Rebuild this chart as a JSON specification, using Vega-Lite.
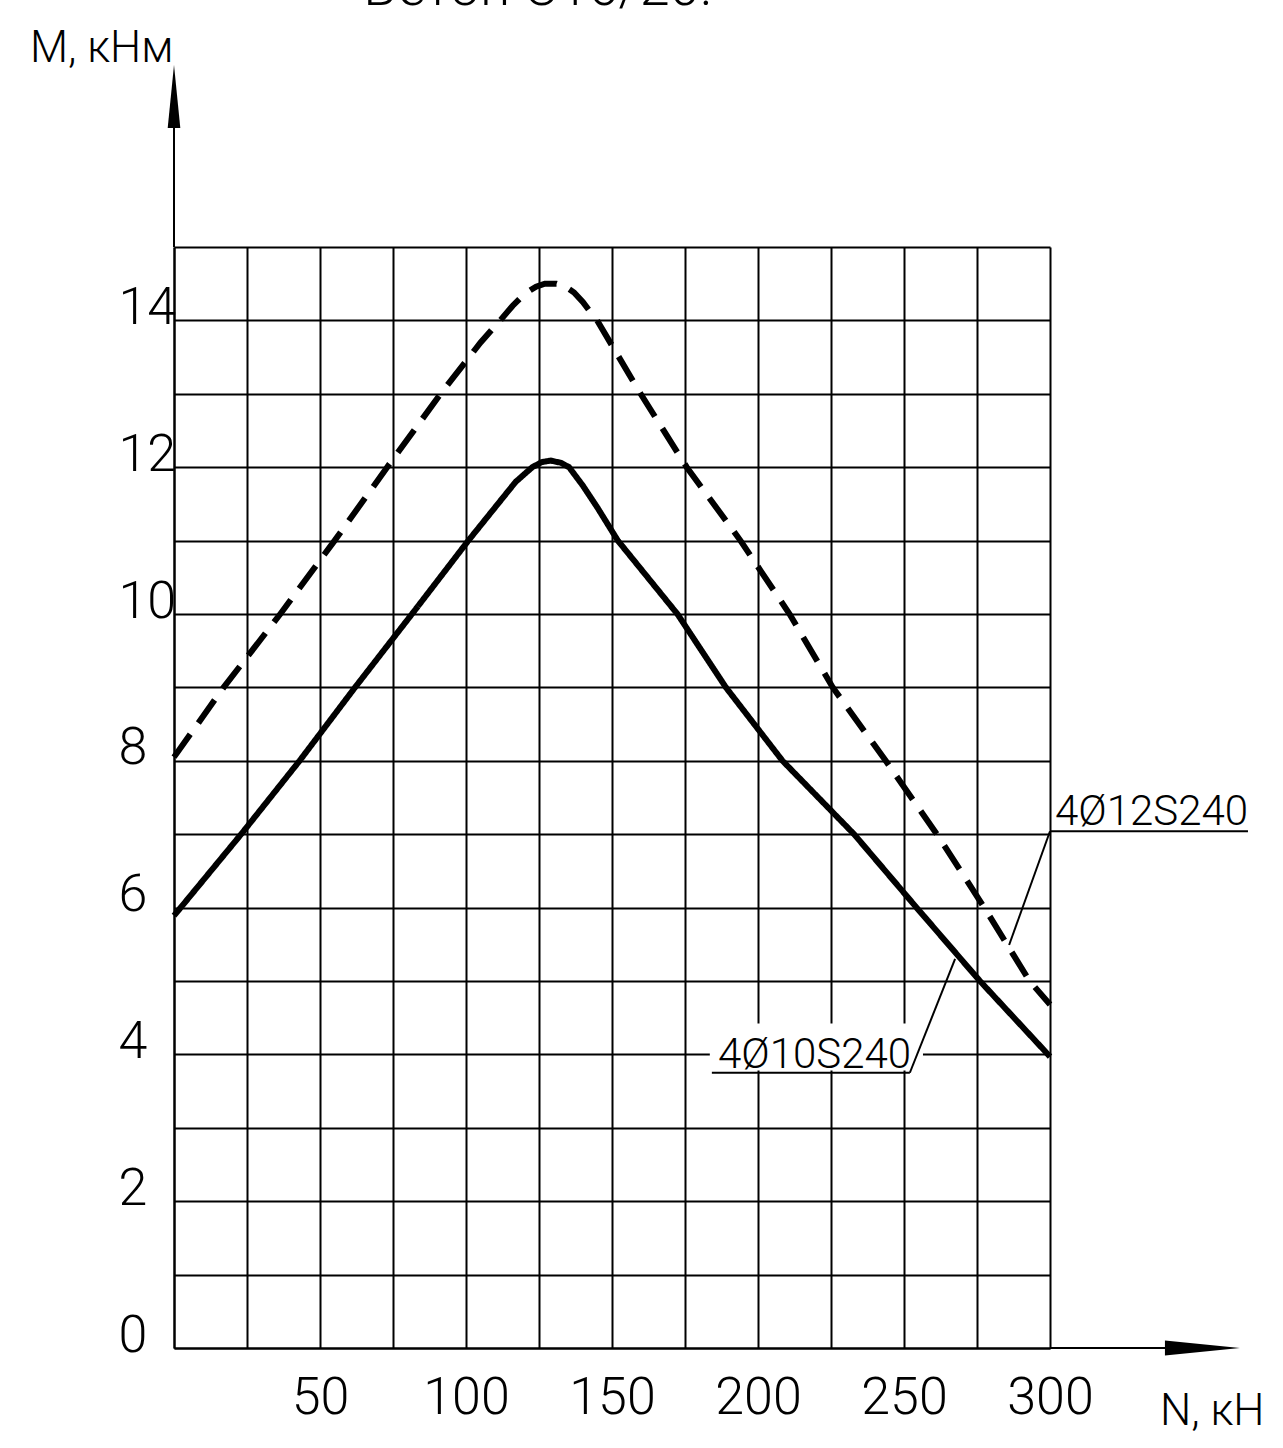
{
  "$schema": "https://vega.github.io/schema/vega-lite/v6.json",
  "width": 876,
  "height": 1101,
  "autosize": {"type": "none"},
  "padding": {"left": 174, "top": 247, "right": 233, "bottom": 100},
  "background": "white",
  "config": {
    "view": {"stroke": null},
    "font": "Roboto, DejaVu Sans Condensed, sans-serif",
    "text": {"font": "Roboto, DejaVu Sans Condensed, sans-serif", "color": "black", "fontWeight": 300}
  },
  "datasets": {
    "curves": [
      {"series": "4Ø12S240", "N": 0, "M": 8.05},
      {"series": "4Ø12S240", "N": 17, "M": 9},
      {"series": "4Ø12S240", "N": 36.4, "M": 10},
      {"series": "4Ø12S240", "N": 55, "M": 11},
      {"series": "4Ø12S240", "N": 73, "M": 12},
      {"series": "4Ø12S240", "N": 91.3, "M": 13},
      {"series": "4Ø12S240", "N": 105, "M": 13.7},
      {"series": "4Ø12S240", "N": 111.7, "M": 14},
      {"series": "4Ø12S240", "N": 116, "M": 14.2},
      {"series": "4Ø12S240", "N": 120, "M": 14.36},
      {"series": "4Ø12S240", "N": 124, "M": 14.46},
      {"series": "4Ø12S240", "N": 127, "M": 14.5},
      {"series": "4Ø12S240", "N": 131, "M": 14.5},
      {"series": "4Ø12S240", "N": 134, "M": 14.46},
      {"series": "4Ø12S240", "N": 137, "M": 14.38},
      {"series": "4Ø12S240", "N": 140, "M": 14.25},
      {"series": "4Ø12S240", "N": 142.5, "M": 14.12},
      {"series": "4Ø12S240", "N": 144.9, "M": 14},
      {"series": "4Ø12S240", "N": 159.8, "M": 13},
      {"series": "4Ø12S240", "N": 175.6, "M": 12},
      {"series": "4Ø12S240", "N": 194, "M": 11},
      {"series": "4Ø12S240", "N": 210.8, "M": 10},
      {"series": "4Ø12S240", "N": 225.6, "M": 9},
      {"series": "4Ø12S240", "N": 243.75, "M": 8},
      {"series": "4Ø12S240", "N": 261.25, "M": 7},
      {"series": "4Ø12S240", "N": 277.5, "M": 6},
      {"series": "4Ø12S240", "N": 293, "M": 5},
      {"series": "4Ø12S240", "N": 300, "M": 4.68},
      {"series": "4Ø10S240", "N": 0, "M": 5.89},
      {"series": "4Ø10S240", "N": 23, "M": 7},
      {"series": "4Ø10S240", "N": 43, "M": 8},
      {"series": "4Ø10S240", "N": 62, "M": 9},
      {"series": "4Ø10S240", "N": 81.5, "M": 10},
      {"series": "4Ø10S240", "N": 100.8, "M": 11},
      {"series": "4Ø10S240", "N": 117, "M": 11.8},
      {"series": "4Ø10S240", "N": 122.7, "M": 12},
      {"series": "4Ø10S240", "N": 126, "M": 12.07},
      {"series": "4Ø10S240", "N": 129, "M": 12.09},
      {"series": "4Ø10S240", "N": 132.5, "M": 12.06},
      {"series": "4Ø10S240", "N": 135.3, "M": 12},
      {"series": "4Ø10S240", "N": 140, "M": 11.75},
      {"series": "4Ø10S240", "N": 145, "M": 11.45},
      {"series": "4Ø10S240", "N": 152, "M": 11},
      {"series": "4Ø10S240", "N": 172.4, "M": 10},
      {"series": "4Ø10S240", "N": 189, "M": 9},
      {"series": "4Ø10S240", "N": 208.4, "M": 8},
      {"series": "4Ø10S240", "N": 232.9, "M": 7},
      {"series": "4Ø10S240", "N": 254.3, "M": 6},
      {"series": "4Ø10S240", "N": 276, "M": 5},
      {"series": "4Ø10S240", "N": 300, "M": 3.97}
    ],
    "one": [{}]
  },
  "layer": [
    {
      "data": {"name": "curves"},
      "mark": {"type": "line", "strokeWidth": 6, "color": "black", "strokeCap": "butt"},
      "encoding": {
        "x": {
          "field": "N", "type": "quantitative",
          "scale": {"domain": [0, 300], "nice": false, "zero": false},
          "axis": {
            "title": null,
            "values": [0, 25, 50, 75, 100, 125, 150, 175, 200, 225, 250, 275, 300],
            "format": "d",
            "labelExpr": "datum.value % 50 === 0 && datum.value > 0 ? datum.label : ''",
            "grid": true, "gridColor": "black", "gridWidth": 2, "gridOpacity": 1,
            "domain": true, "domainColor": "black", "domainWidth": 2,
            "ticks": false, "tickSize": 0,
            "labelFontSize": 52, "labelColor": "black", "labelPadding": 24, "labelFontWeight": 300,
            "labelFont": "Roboto, DejaVu Sans Condensed, sans-serif",
            "labelFlush": false, "labelOverlap": false
          }
        },
        "y": {
          "field": "M", "type": "quantitative",
          "scale": {"domain": [0, 15], "nice": false, "zero": false},
          "axis": {
            "title": null,
            "values": [0, 1, 2, 3, 4, 5, 6, 7, 8, 9, 10, 11, 12, 13, 14, 15],
            "format": "d",
            "labelExpr": "datum.value % 2 === 0 && datum.value < 15 ? datum.label : ''",
            "grid": true, "gridColor": "black", "gridWidth": 2, "gridOpacity": 1,
            "domain": true, "domainColor": "black", "domainWidth": 2,
            "ticks": false, "tickSize": 0,
            "labelFontSize": 52, "labelColor": "black", "labelPadding": 56, "labelFontWeight": 300,
            "labelAlign": "left", "labelBaseline": "alphabetic", "labelOffset": 3,
            "labelFont": "Roboto, DejaVu Sans Condensed, sans-serif",
            "labelFlush": false, "labelOverlap": false
          }
        },
        "detail": {"field": "series"},
        "strokeDash": {
          "field": "series", "type": "nominal",
          "scale": {"domain": ["4Ø12S240", "4Ø10S240"], "range": [[28, 14], [1, 0]]},
          "legend": null
        }
      }
    },
    {
      "data": {"name": "one"},
      "mark": {"type": "rect", "color": "white"},
      "encoding": {
        "x": {"datum": 183.5, "type": "quantitative"},
        "x2": {"datum": 256.5},
        "y": {"datum": 3.78, "type": "quantitative"},
        "y2": {"datum": 4.42}
      }
    },
    {
      "data": {"name": "one"},
      "mark": {"type": "rule", "color": "black", "strokeWidth": 2},
      "encoding": {
        "x": {"datum": 0, "type": "quantitative"},
        "y": {"datum": 15, "type": "quantitative"},
        "y2": {"datum": 17.2}
      }
    },
    {
      "data": {"name": "one"},
      "mark": {"type": "rule", "color": "black", "strokeWidth": 2},
      "encoding": {
        "x": {"datum": 300, "type": "quantitative"},
        "x2": {"datum": 345},
        "y": {"datum": 0, "type": "quantitative"}
      }
    },
    {
      "data": {"name": "one"},
      "mark": {"type": "point", "filled": true, "color": "black", "opacity": 1, "shape": "M0,-1L0.2,1L-0.2,1Z", "size": 3969, "strokeWidth": 0},
      "encoding": {
        "x": {"datum": 0, "type": "quantitative"},
        "y": {"datum": 17.05, "type": "quantitative"}
      }
    },
    {
      "data": {"name": "one"},
      "mark": {"type": "point", "filled": true, "color": "black", "opacity": 1, "shape": "M1,0L-1,-0.2L-1,0.2Z", "size": 5625, "strokeWidth": 0},
      "encoding": {
        "x": {"datum": 352.2, "type": "quantitative"},
        "y": {"datum": 0, "type": "quantitative"}
      }
    },
    {
      "data": {"name": "one"},
      "mark": {"type": "rule", "color": "black", "strokeWidth": 2},
      "encoding": {
        "x": {"datum": 300, "type": "quantitative"},
        "x2": {"datum": 367.8},
        "y": {"datum": 7.04, "type": "quantitative"}
      }
    },
    {
      "data": {"name": "one"},
      "mark": {"type": "rule", "color": "black", "strokeWidth": 2},
      "encoding": {
        "x": {"datum": 300, "type": "quantitative"},
        "x2": {"datum": 286},
        "y": {"datum": 7.04, "type": "quantitative"},
        "y2": {"datum": 5.49}
      }
    },
    {
      "data": {"name": "one"},
      "mark": {"type": "rule", "color": "black", "strokeWidth": 2},
      "encoding": {
        "x": {"datum": 184.2, "type": "quantitative"},
        "x2": {"datum": 252},
        "y": {"datum": 3.75, "type": "quantitative"}
      }
    },
    {
      "data": {"name": "one"},
      "mark": {"type": "rule", "color": "black", "strokeWidth": 2},
      "encoding": {
        "x": {"datum": 252, "type": "quantitative"},
        "x2": {"datum": 267.5},
        "y": {"datum": 3.75, "type": "quantitative"},
        "y2": {"datum": 5.3}
      }
    },
    {
      "data": {"name": "one"},
      "mark": {"type": "text", "align": "left", "baseline": "alphabetic", "fontSize": 42},
      "encoding": {
        "x": {"datum": 301.7, "type": "quantitative"},
        "y": {"datum": 7.13, "type": "quantitative"},
        "text": {"value": "4Ø12S240"}
      }
    },
    {
      "data": {"name": "one"},
      "mark": {"type": "text", "align": "left", "baseline": "alphabetic", "fontSize": 42},
      "encoding": {
        "x": {"datum": 186.3, "type": "quantitative"},
        "y": {"datum": 3.81, "type": "quantitative"},
        "text": {"value": "4Ø10S240"}
      }
    },
    {
      "data": {"name": "one"},
      "mark": {"type": "text", "align": "left", "baseline": "alphabetic", "fontSize": 44},
      "encoding": {
        "x": {"datum": -49.3, "type": "quantitative"},
        "y": {"datum": 17.52, "type": "quantitative"},
        "text": {"value": "M, кНм"}
      }
    },
    {
      "data": {"name": "one"},
      "mark": {"type": "text", "align": "left", "baseline": "alphabetic", "fontSize": 44},
      "encoding": {
        "x": {"datum": 337.7, "type": "quantitative"},
        "y": {"datum": -1.05, "type": "quantitative"},
        "text": {"value": "N, кН"}
      }
    },
    {
      "data": {"name": "one"},
      "mark": {"type": "text", "align": "center", "baseline": "alphabetic", "fontSize": 54},
      "encoding": {
        "x": {"datum": 124.7, "type": "quantitative"},
        "y": {"datum": 18.3, "type": "quantitative"},
        "text": {"value": "Бетон С16/20."}
      }
    }
  ]
}
